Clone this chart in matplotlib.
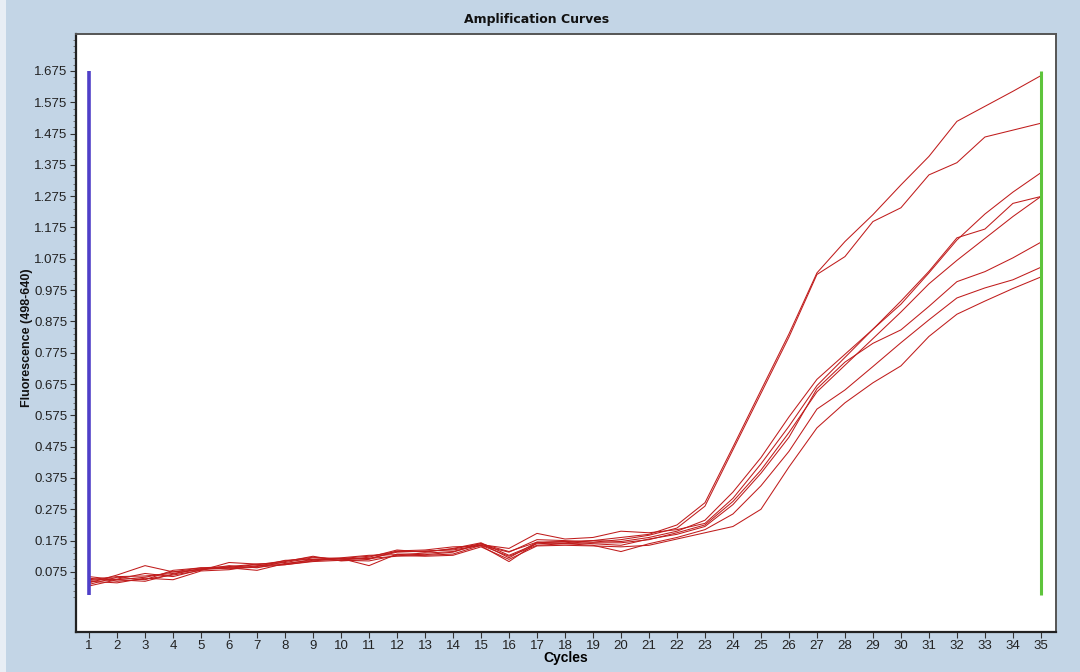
import numpy as np
import matplotlib.pyplot as plt
from matplotlib.ticker import FixedLocator

plt.rcParams['font.family'] = ['Liberation Sans', 'DejaVu Sans']

# === DATA: fluorescence per cycle for each well ===
cycles = list(range(1, 36))

well_a = [0.060, 0.050, 0.058, 0.075, 0.088, 0.092, 0.100, 0.105, 0.120, 0.118,
          0.125, 0.140, 0.140, 0.148, 0.165, 0.140, 0.170, 0.172, 0.175, 0.185,
          0.195, 0.225, 0.296, 0.474, 0.655, 0.835, 1.030, 1.130, 1.216, 1.311,
          1.402, 1.514, 1.562, 1.610, 1.660]
well_b = [0.050, 0.060, 0.062, 0.070, 0.085, 0.090, 0.098, 0.110, 0.122, 0.115,
          0.118, 0.138, 0.142, 0.145, 0.160, 0.138, 0.178, 0.175, 0.170, 0.178,
          0.192, 0.215, 0.285, 0.465, 0.645, 0.825, 1.025, 1.082, 1.194, 1.238,
          1.343, 1.382, 1.464, 1.486, 1.508]
well_c = [0.040, 0.065, 0.095, 0.075, 0.082, 0.088, 0.092, 0.112, 0.115, 0.112,
          0.122, 0.145, 0.138, 0.150, 0.168, 0.128, 0.165, 0.168, 0.175, 0.172,
          0.185, 0.205, 0.240, 0.330, 0.440, 0.570, 0.690, 0.770, 0.850, 0.930,
          1.030, 1.135, 1.218, 1.288, 1.350]
well_d = [0.055, 0.045, 0.052, 0.065, 0.080, 0.105, 0.100, 0.100, 0.115, 0.120,
          0.128, 0.130, 0.135, 0.140, 0.162, 0.150, 0.198, 0.180, 0.185, 0.205,
          0.200, 0.210, 0.230, 0.310, 0.420, 0.540, 0.670, 0.760, 0.850, 0.940,
          1.035, 1.142, 1.170, 1.252, 1.274]
well_e = [0.035, 0.058, 0.050, 0.080, 0.088, 0.085, 0.090, 0.098, 0.110, 0.118,
          0.095, 0.132, 0.130, 0.138, 0.166, 0.120, 0.170, 0.165, 0.168, 0.168,
          0.178, 0.200, 0.225, 0.300, 0.400, 0.520, 0.650, 0.735, 0.820, 0.905,
          0.995, 1.070, 1.140, 1.210, 1.274]
well_f = [0.048, 0.052, 0.070, 0.060, 0.082, 0.095, 0.088, 0.108, 0.125, 0.110,
          0.115, 0.142, 0.145, 0.155, 0.158, 0.108, 0.168, 0.172, 0.165, 0.160,
          0.180, 0.195, 0.220, 0.290, 0.390, 0.505, 0.660, 0.745, 0.805, 0.848,
          0.923, 1.002, 1.034, 1.078, 1.128]
well_g = [0.030, 0.050, 0.045, 0.068, 0.085, 0.088, 0.080, 0.102, 0.112, 0.118,
          0.118, 0.125, 0.128, 0.132, 0.160, 0.125, 0.160, 0.165, 0.160, 0.140,
          0.165, 0.185, 0.210, 0.260, 0.350, 0.460, 0.595, 0.656, 0.731, 0.807,
          0.880, 0.950, 0.982, 1.008, 1.048]
well_h = [0.045, 0.040, 0.055, 0.050, 0.078, 0.082, 0.095, 0.098, 0.108, 0.112,
          0.110, 0.128, 0.125, 0.128, 0.155, 0.115, 0.158, 0.160, 0.158, 0.155,
          0.160, 0.180, 0.200, 0.220, 0.275, 0.410, 0.535, 0.615, 0.679, 0.733,
          0.827, 0.898, 0.940, 0.980, 1.017]

wells = [well_a, well_b, well_c, well_d, well_e, well_f, well_g, well_h]

y_ticks = [0.075, 0.175, 0.275, 0.375, 0.475, 0.575, 0.675, 0.775, 0.875,
           0.975, 1.075, 1.175, 1.275, 1.375, 1.475, 1.575, 1.675]
y_tick_labels = [f"{v:.3f}" for v in y_ticks]

# analysis window markers (start / end cycle)
window_start = 1
window_end = 35
window_bottom = 0.0
window_top = 1.675

# === FIGURE ===
bg = '#c3d5e6'
fig = plt.figure(figsize=(10.8, 6.72), dpi=100, facecolor=bg)
ax = fig.add_axes([0.0704, 0.0595, 0.9074, 0.8899])
ax.set_facecolor('white')

for w in wells:
    ax.plot(cycles, w, color='#c01c1c', lw=0.75, zorder=3)

ax.plot([window_start, window_start], [window_bottom, window_top],
        color='#4f3fc8', lw=2.6, solid_capstyle='butt', zorder=4)
ax.plot([window_end, window_end], [window_bottom, window_top],
        color='#5ec43c', lw=2.2, solid_capstyle='butt', zorder=4)

ax.set_xlim(0.535, 35.54)
ax.set_ylim(-0.117, 1.793)

ax.set_xticks(cycles)
ax.set_xticklabels([str(c) for c in cycles], fontsize=9.5)
ax.yaxis.set_major_locator(FixedLocator(y_ticks))
ax.set_yticklabels(y_tick_labels, fontsize=9.5)
minor = [t + k * 0.02 for t in [-0.025] + y_ticks[:-1] for k in range(1, 5)]
minor += [1.675 + k * 0.02 for k in range(1, 6)]
ax.yaxis.set_minor_locator(FixedLocator(minor))

ax.tick_params(axis='both', which='major', direction='out', length=4,
               width=0.8, color='#333333', labelcolor='#222222', pad=2)
ax.tick_params(axis='y', which='minor', direction='out', length=2,
               width=0.6, color='#666666')

for side in ['left', 'bottom']:
    ax.spines[side].set_color('#222222')
    ax.spines[side].set_linewidth(1.6)
for side in ['top', 'right']:
    ax.spines[side].set_color('#555555')
    ax.spines[side].set_linewidth(1.4)

fig.text(0.497, 0.971, "Amplification Curves", ha='center', va='center',
         fontsize=9, fontweight='bold', color='#111111',
         family=['DejaVu Sans'])
ax.set_xlabel("Cycles", fontsize=10, fontweight='bold', labelpad=-1)
fig.text(0.025, 0.497, "Fluorescence (498-640)", ha='center', va='center',
         rotation=90, fontsize=9, fontweight='bold', color='#111111')

# light window border on the left edge
fig.patches.append(plt.Rectangle((0, 0), 0.006, 1, transform=fig.transFigure,
                                 facecolor='#e8eef5', edgecolor='none'))

fig.savefig('out.png', dpi=100, facecolor=bg)
